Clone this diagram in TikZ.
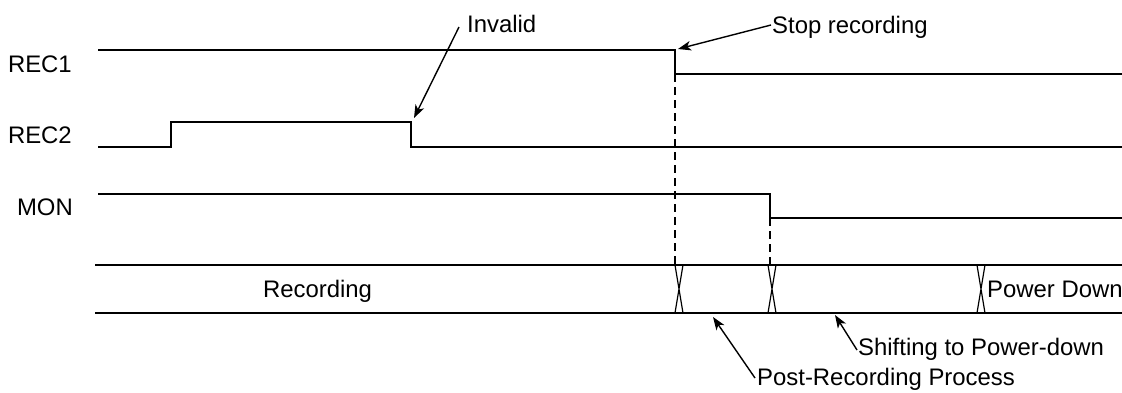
\documentclass[tikz,border=0pt]{standalone}
\usepackage{fontspec}
\setmainfont{Liberation Sans}
\usetikzlibrary{arrows.meta}
\begin{document}
\begin{tikzpicture}[x=1pt,y=-1pt,
  sig/.style={line width=1.7pt},
  lbl/.style={font=\fontsize{23.9}{28}\selectfont, inner sep=0pt},
  note/.style={-{Stealth[length=13pt,width=9.5pt,inset=3.5pt]}, line width=1.4pt},
  guide/.style={dash pattern=on 8pt off 5pt, line width=1.5pt},
  xing/.style={line width=1.2pt}]
\useasboundingbox (0,0) rectangle (1122,392);
% signal labels
\node[lbl, anchor=base east] (rec1) at (72,72) {REC1};
\node[lbl, anchor=base east] (rec2) at (72,143) {REC2};
\node[lbl, anchor=base east] (mon) at (73,215) {MON};
% waveforms
\coordinate (r1fall) at (675,50);
\coordinate (r2fall) at (411,122);
\coordinate (monfall) at (770,194);
\draw[sig] (98,50) -- (r1fall) -- (675,74) -- (1122,74);
\draw[sig] (98,147) -- (171,147) -- (171,122) -- (r2fall) -- (411,147) -- (1122,147);
\draw[sig] (98,194) -- (monfall) -- (770,218) -- (1122,218);
% bus
\draw[sig] (95,265) -- (1122,265);
\draw[sig] (95,313) -- (1122,313);
\foreach \x in {675,768,977}{
  \draw[xing] (\x,265) -- (\x+8,313) (\x+8,265) -- (\x,313);
}
% guide lines
\draw[guide] (675,74) -- (675,265);
\draw[guide] (770,218) -- (770,265);
% bus texts
\node[lbl, anchor=base] (recording) at (317.5,297) {Recording};
\node[lbl, anchor=base west] (pd) at (987,297) {Power Down};
% annotations
\node[lbl, anchor=base west] (inv) at (467,32) {Invalid};
\node[lbl, anchor=base west] (stop) at (772,33) {Stop recording};
\node[lbl, anchor=base west] (post) at (757,385) {Post-Recording Process};
\node[lbl, anchor=base west] (shift) at (858,355) {Shifting to Power-down};
\coordinate (invtip) at (414,118);
\coordinate (stoptip) at (678,49);
\coordinate (posttip) at (713,317);
\coordinate (shifttip) at (835,315);
\draw[note] ([xshift=-8pt,yshift=5pt]inv.base west) -- (invtip);
\draw[note] ([xshift=-1pt,yshift=8pt]stop.base west) -- (stoptip);
\draw[note] ([xshift=-2pt,yshift=7pt]post.base west) -- (posttip);
\draw[note] ([xshift=-1pt,yshift=5pt]shift.base west) -- (shifttip);
\end{tikzpicture}
\end{document}
